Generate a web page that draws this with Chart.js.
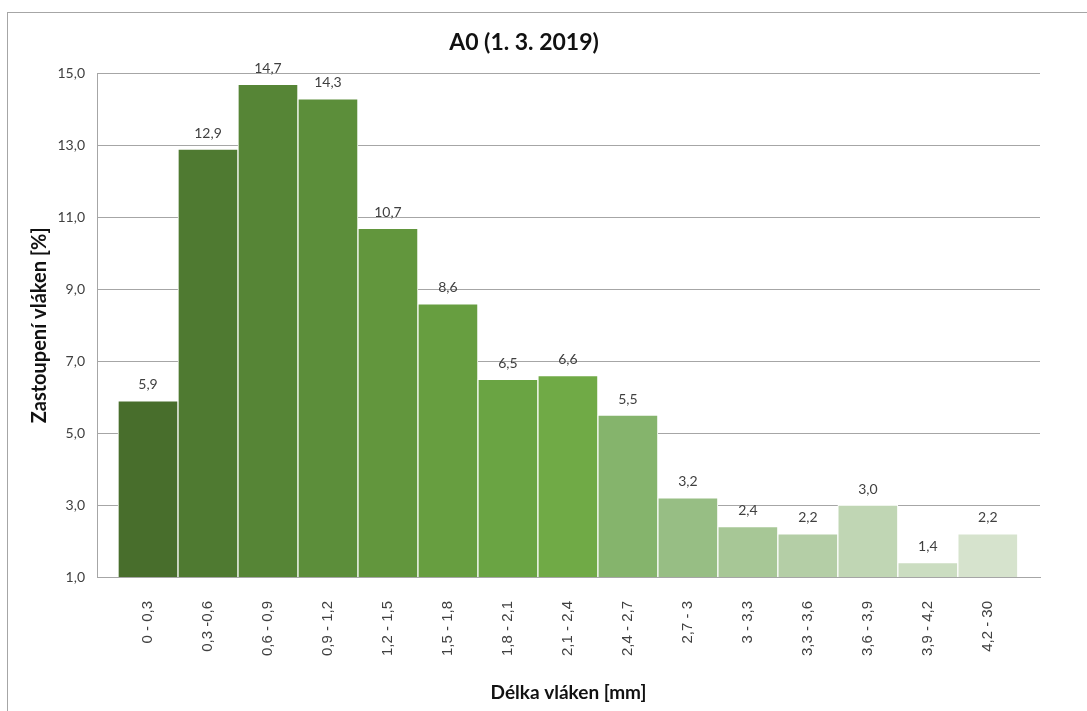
<!DOCTYPE html>
<html>
<head>
<meta charset="utf-8">
<script src="https://cdn.jsdelivr.net/npm/chart.js@4/dist/chart.umd.min.js"></script>
<style>
  html, body { margin: 0; padding: 0; background: #ffffff; }
  #frame {
    position: absolute;
    left: 7px;
    top: 12px;
    border-left: 1px solid #a6a6a6;
    border-top: 1px solid #a6a6a6;
  }
  canvas { display: block; }
</style>
</head>
<body>
<div id="frame">
  <canvas id="fiberChart" width="1079" height="698"></canvas>
</div>
<script>
// Fibre length classes and their share [%]
const categories = ['0 - 0,3', '0,3 -0,6', '0,6 - 0,9', '0,9 - 1,2', '1,2 - 1,5', '1,5 - 1,8', '1,8 - 2,1',
    '2,1 - 2,4', '2,4 - 2,7', '2,7 - 3', '3 - 3,3', '3,3 - 3,6', '3,6 - 3,9', '3,9 - 4,2', '4,2 - 30'];
const shares = [5.9, 12.9, 14.7, 14.3, 10.7, 8.6, 6.5, 6.6, 5.5, 3.2, 2.4, 2.2, 3.0, 1.4, 2.2];
const barColors = ['#486e2c', '#4f7a31', '#568536', '#5c8e3a', '#62963d', '#679e40', '#6aa443',
    '#70aa46', '#85b46c', '#97be84', '#a7c796', '#b4cea6', '#c0d6b4', '#cbddc1', '#d6e3cd'];
const yTicks = [1, 3, 5, 7, 9, 11, 13, 15];

const fmt = v => v.toFixed(1).replace('.', ',');

// value labels above the bars
const barLabels = {
    id: 'barLabels',
    afterDatasetsDraw(chart) {
        const ctx = chart.ctx;
        const meta = chart.getDatasetMeta(0);
        ctx.save();
        ctx.font = '14px Lato, "Open Sans", sans-serif';
        ctx.fillStyle = '#404040';
        ctx.textAlign = 'center';
        ctx.textBaseline = 'middle';
        meta.data.forEach((bar, i) => {
            ctx.fillText(fmt(shares[i]), bar.x, bar.y - 16);
        });
        ctx.restore();
    }
};

const ctx = document.getElementById('fiberChart').getContext('2d');
new Chart(ctx, {
    type: 'bar',
    data: {
        datasets: [{
            data: shares.map((v, i) => ({ x: i, y: v })),
            backgroundColor: barColors,
            borderColor: '#ffffff',
            borderWidth: 1,
            borderSkipped: 'bottom',
            barPercentage: 1,
            categoryPercentage: 1
        }]
    },
    options: {
        responsive: false,
        animation: false,
        layout: { padding: { left: 0, right: 47, top: 0, bottom: 0 } },
        plugins: {
            legend: { display: false },
            tooltip: { enabled: false },
            title: {
                display: true,
                text: 'A0 (1. 3. 2019)',
                color: '#111111',
                font: { family: 'Lato, "Open Sans", sans-serif', size: 23, weight: 'bold' },
                padding: { top: 16, bottom: 17 }
            }
        },
        scales: {
            x: {
                type: 'linear',
                offset: false,
                min: -0.85,
                max: 14.87,
                afterFit(scale) { scale.height = 134; },
                grid: { display: false, drawTicks: false },
                border: { display: true, color: '#a6a6a6', width: 1 },
                ticks: {
                    stepSize: 1,
                    includeBounds: false,
                    autoSkip: false,
                    minRotation: 90,
                    maxRotation: 90,
                    padding: 24,
                    color: '#404040',
                    font: { family: '"Liberation Sans", Arial, sans-serif', size: 15 },
                    callback: v => Number.isInteger(v) && categories[v] ? categories[v] : ''
                },
                title: {
                    display: true,
                    text: 'Délka vláken [mm]',
                    color: '#111111',
                    font: { family: 'Lato, "Open Sans", sans-serif', size: 19, weight: 'bold' },
                    padding: { top: 0, bottom: 7 }
                }
            },
            y: {
                min: yTicks[0],
                max: yTicks[yTicks.length - 1],
                afterFit(scale) { scale.width = 89; },
                grid: { color: '#a6a6a6', lineWidth: 1, drawTicks: false },
                border: { display: true, color: '#a6a6a6', width: 1 },
                ticks: {
                    stepSize: 2,
                    padding: 12,
                    color: '#404040',
                    font: { family: 'Lato, "Open Sans", sans-serif', size: 14 },
                    callback: v => fmt(v)
                },
                title: {
                    display: true,
                    text: 'Zastoupení vláken [%]',
                    color: '#111111',
                    font: { family: 'Lato, "Open Sans", sans-serif', size: 20, weight: 'bold' },
                    padding: { top: 20, bottom: 0 }
                }
            }
        }
    },
    plugins: [barLabels]
});
</script>
</body>
</html>
